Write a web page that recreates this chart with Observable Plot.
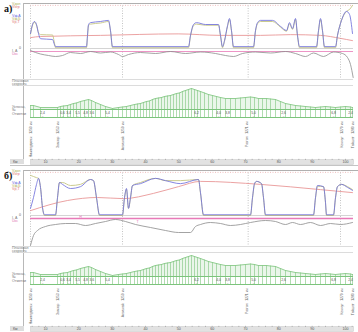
<!DOCTYPE html>
<html><head><meta charset="utf-8">
<script src="https://cdn.jsdelivr.net/npm/d3@7"></script>
<script src="https://cdn.jsdelivr.net/npm/@observablehq/plot@0.6"></script>
<style>
body{margin:0;background:#fff;font-family:"Liberation Sans",Arial,sans-serif;}
#root{position:relative;width:358px;height:332px;overflow:hidden;background:#fff;}
</style></head><body><div id="root"></div>
<script>
// ---------- data ----------
const xDomain = [5.5, 102.4];
const kmTicks = [10, 20, 30, 40, 50, 60, 70, 80, 90, 100];
const stationKm = [5.5, 13.6, 33.1, 70.3, 98.8, 102.2];
const stationCode = ["1250 км", "1253 км", "1259 км", "1271 км", "1279 км", "1280 км"];
const stationName = ["Нижнеудинск", "Замзор", "Алзамай", "Разгон", "Кемчуг", "Тайшет"];
const gridKm = [5.5, 33.1, 70.8, 98.5];

// panel а
const speedA_km = [5.5,6.1,6.7,7.3,7.9,8.5,12.1,12.7,13.0,22.3,22.6,22.9,23.5,26.5,28.9,29.5,30.1,52.9,53.5,54.4,55.3,58.0,61.9,62.5,63.1,63.7,64.6,65.2,65.8,66.4,72.4,73.0,73.6,74.5,78.1,80.5,82.3,83.2,84.1,85.0,85.6,86.2,91.3,91.9,92.5,93.1,93.7,97.0,97.6,98.8,100.3,101.2,102.1];
const speedA_blue = [40,64,72,64,40,26,24,10,5,5,35,64,69,72,75,48,5,5,35,64,69,64,64,35,5,21,61,80,48,5,5,48,69,75,75,59,48,69,53,80,35,5,5,48,80,48,5,5,35,75,99,91,40];
const speedA_olive = [38,62,70,62,42,37,36,14,2,2,33,61,65,68,72,46,2,2,33,61,65,62,62,33,2,19,59,77,46,2,2,46,66,72,72,57,46,66,51,77,33,2,2,46,77,46,2,2,35,75,99,104,115];
const limitA_km = [5.5,8.5,26.5,49.8,62.5,74.5,83.5,92.5,98.5,102.1];
const limitA_v = [29,32,35,39,35,35,37,35,27,21];
const currA_km = [5.5,7.0,8.5,10.9,13.0,15.1,17.5,20.5,23.5,26.5,29.5,31.9,33.1,34.9,38.5,43.0,47.5,52.0,56.5,61.0,64.0,66.4,69.1,73.0,77.5,82.0,85.0,88.0,90.4,93.4,96.4,99.1,100.6,101.5,102.3];
const currA_I = [560,520,490,460,440,460,520,500,540,510,530,480,440,480,520,500,540,500,530,500,460,440,500,530,510,540,500,440,510,440,530,500,420,280,20];

// panel б
const speedB_km = [5.5,6.4,7.3,7.9,8.5,9.1,9.7,13.0,13.6,14.2,15.1,17.5,20.5,23.5,24.4,25.3,26.2,33.1,33.7,34.3,34.9,35.5,36.1,38.5,43.0,46.0,50.5,55.9,56.5,57.4,71.5,72.1,72.7,73.3,74.8,75.4,76.0,90.4,91.0,91.6,93.4,94.0,94.3,96.4,97.0,97.6,98.8,100.6,102.1];
const speedB_blue = [19,48,83,99,75,21,2,2,48,88,83,72,77,96,93,48,2,2,48,72,19,48,80,85,99,93,85,96,61,2,2,48,85,91,85,48,2,2,48,80,77,35,2,2,48,77,83,75,67];
const speedB_olive = [107,104,101,99,75,21,0,0,46,88,88,80,83,96,93,46,0,0,46,70,19,46,80,88,99,93,93,96,59,0,0,46,83,91,85,46,0,0,46,78,77,33,0,0,46,77,83,77,69];
const limitB_km = [5.5,16.6,25.6,33.4,42.4,49.9,56.5,74.5,92.5,102.1];
const limitB_v = [13,40,48,45,59,77,91,83,69,61];
const currB_km = [5.5,6.4,7.6,10.0,13.0,16.0,19.0,22.0,25.0,28.0,31.0,34.0,37.0,41.5,46.0,49.9,53.5,55.0,56.5,59.5,62.5,65.5,68.5,71.5,76.0,79.0,82.0,84.1,86.5,89.5,92.5,95.5,98.5,102.1];
const currB_I = [0,200,300,380,420,440,440,400,440,480,520,480,420,360,300,260,260,380,420,460,440,400,420,460,500,480,420,460,420,460,400,440,420,460];
const pinkB_km = [20.5, 37.6];
const pinkB_I = [565, 480];
const pinkB_text = ["Н", "Т"];

// track profile (shared)
const profileKm = [5.5,6.4,8.5,13.6,14.5,15.4,16.6,17.5,18.4,19.3,20.5,21.7,22.9,23.8,25.0,26.5,28.0,30.1,31.9,33.1,34.3,35.5,36.7,37.6,38.5,39.4,40.3,41.2,42.1,43.0,43.9,44.8,45.7,46.6,47.5,48.4,49.3,50.2,51.1,52.0,52.9,53.8,54.7,55.6,56.5,57.7,58.9,60.1,61.3,62.5,64.0,65.5,67.0,68.5,70.0,71.5,72.7,73.9,75.1,76.3,77.5,79.0,80.5,82.0,83.5,85.0,86.5,88.0,89.5,91.0,92.5,94.0,95.5,97.0,98.5,100.0,101.5,102.1];
const profileElev = [8,8,4,4,6,7,8,10,12,13,16,18,20,18,14,10,6,2,4,5,6,8,10,11,12,14,16,17,20,22,23,24,26,27,28,30,32,33,36,38,40,42,40,38,36,33,30,28,26,24,22,22,22,23,24,25,24,22,22,22,21,20,16,12,10,8,7,6,5,4,5,6,5,4,5,6,5,4];
const gradeKm = [9.1,15.1,16.9,19.6,22.0,23.9,28.6,55.3,61.9,64.6,72.4,81.4,96.4,101.5];
const gradeText = ["2,4","0,6","3,4","5,5","4,8","3,6","5,4","6,2","4,0","3,8","5,0","2,6","6,8","2,4"];

const leftText = ["Vдоп","Vогр","Vф,А","Vф,Б","Vр,Т","I, А","Uкс","Плановая","скорость","Уклоны,","‰","Отметки"];
const leftY = [1.5,5,13.5,16.5,19.5,48.5,51.5,79.3,82.3,105,108,112];
const leftColor = ["#b0b060","#e07070","#6666dd","#b0b060","#e07070","#777","#e070b0","#777","#777","#777","#777","#777"];

// ---------- drawing ----------
const C = {blue:"#7070dc", olive:"#c2c27c", red:"#e68a8a", gray:"#8c8c8c", pink:"#e87ab8", green:"#7cc47c", fill:"#eaf6ea", grid:"#c4c4c4"};
const zip = (xs, ys, k) => xs.map((x, i) => ({km: x, [k]: ys[i]}));
const profile = zip(profileKm, profileElev, "elev");
const grades = gradeKm.map((x, i) => ({km: x, t: gradeText[i]}));
const stations = stationKm.map((x, i) => ({km: x, code: stationCode[i], name: stationName[i]}));
const root = document.getElementById("root");

function div(parent, css, text) {
  const d = document.createElement("div");
  d.style.cssText = css;
  if (text != null) d.textContent = text;
  parent.appendChild(d);
  return d;
}

function band(parent, top, height, yDomain, marks) {
  const svg = Plot.plot({
    width: 358, height, marginLeft: 30, marginRight: 5, marginTop: 0, marginBottom: 0,
    x: {domain: xDomain, axis: null},
    y: {domain: yDomain, axis: null},
    style: {background: "transparent", overflow: "visible", fontFamily: "Liberation Sans"},
    marks
  });
  svg.style.position = "absolute";
  svg.style.left = "0px";
  svg.style.top = top + "px";
  svg.style.maxWidth = "none";
  parent.appendChild(svg);
}

function panel(top, P) {
  const p = div(root, `position:absolute;left:0;top:${top}px;width:358px;height:166px;`);
  div(p, "position:absolute;left:23px;top:3px;width:335px;height:0;border-top:1px solid #b0b0b0;");
  div(p, "position:absolute;left:23px;top:3px;width:0;height:160px;border-left:1px solid #b8b8b8;");
  div(p, "position:absolute;left:12px;top:79px;width:341px;height:0;border-top:1px solid #dcdcdc;");
  div(p, "position:absolute;left:12px;top:85px;width:341px;height:0;border-top:1px solid #dcdcdc;");
  div(p, "position:absolute;left:10px;top:165px;width:348px;height:0;border-top:1px solid #c4c4c4;");
  div(p, "position:absolute;left:4px;top:3px;font:bold 10px 'Liberation Serif',serif;color:#111;", P.label);
  leftText.forEach((t, i) => div(p, `position:absolute;left:12px;top:${leftY[i]}px;font-size:3.6px;line-height:4px;color:${leftColor[i]};white-space:nowrap;`, t));
  div(p, "position:absolute;left:19px;top:45.5px;font-size:3.6px;line-height:4px;color:#666;", "0");

  band(p, 3, 45, [0, 120], [
    Plot.ruleY([0], {stroke: "#d4d4d4"}),
    Plot.ruleY([115], {stroke: C.red, strokeOpacity: 0.55, strokeDasharray: "1,1.5"}),
    Plot.ruleX(gridKm, {stroke: C.grid, strokeDasharray: "1,1.5"}),
    Plot.line(P.limit, {x: "km", y: "v", stroke: C.red, strokeWidth: 0.8, curve: "monotone-x"}),
    Plot.line(P.olive, {x: "km", y: "v", stroke: C.olive, strokeWidth: 0.85, curve: "monotone-x"}),
    Plot.line(P.blue, {x: "km", y: "v", stroke: C.blue, strokeWidth: 0.85, curve: "monotone-x"})
  ]);
  band(p, 49, 29, [0, 580], [
    Plot.ruleX(gridKm, {stroke: C.grid, strokeDasharray: "1,1.5"}),
    Plot.ruleY([540], {stroke: C.pink, strokeWidth: P.pinkW}),
    Plot.text(P.pinks, {x: "km", y: "I", text: "t", fill: C.pink, fontSize: 3.6}),
    Plot.line(P.curr, {x: "km", y: "I", stroke: C.gray, strokeWidth: 0.8, curve: "monotone-x"})
  ]);
  band(p, 86, 23, [0, 46], [
    Plot.areaY(profile, {x: "km", y: "elev", fill: C.fill}),
    Plot.ruleX(profile, {x: "km", y1: 0, y2: "elev", stroke: C.green, strokeWidth: 0.6}),
    Plot.line(profile, {x: "km", y: "elev", stroke: C.green, strokeWidth: 0.8}),
    Plot.ruleY([0], {stroke: C.green})
  ]);
  band(p, 109, 8, [0, 1], [
    Plot.ruleX(profile, {x: "km", stroke: C.green, strokeWidth: 0.6}),
    Plot.ruleY([0, 1], {stroke: C.green}),
    Plot.text(grades, {x: "km", y: 0.62, text: "t", fill: "#555", fontSize: 3.4}),
    Plot.text(grades, {x: "km", y: 0.22, text: () => "–", fill: "#777", fontSize: 3})
  ]);
  band(p, 118, 42, [0, 42], [
    Plot.text(stations, {x: "km", y: 39, text: "code", rotate: -90, textAnchor: "end", fill: "#666", fontSize: 3.4}),
    Plot.text(stations, {x: "km", y: 24, text: "name", rotate: -90, textAnchor: "end", fill: "#666", fontSize: 3.4})
  ]);
  div(p, "position:absolute;left:10px;top:159px;width:14px;height:5px;background:#dedede;");
  div(p, "position:absolute;left:13px;top:159.5px;font-size:3.6px;line-height:4px;color:#555;", "Км");
  band(p, 159, 5, [0, 1], [
    Plot.frame({fill: "#e2e2e2", stroke: "#c8c8c8", strokeWidth: 0.5}),
    Plot.axisX({anchor: "top", ticks: 48, tickSize: 1.2, text: null, stroke: "#888", strokeWidth: 0.5}),
    Plot.text(kmTicks, {x: d => d, y: 0.5, text: d => String(d), fill: "#555", fontSize: 3.6})
  ]);
}

panel(0, {
  label: "а)",
  blue: zip(speedA_km, speedA_blue, "v"),
  olive: zip(speedA_km, speedA_olive, "v"),
  limit: zip(limitA_km, limitA_v, "v"),
  curr: zip(currA_km, currA_I, "I"),
  pinks: [], pinkW: 0.8
});
panel(167, {
  label: "б)",
  blue: zip(speedB_km, speedB_blue, "v"),
  olive: zip(speedB_km, speedB_olive, "v"),
  limit: zip(limitB_km, limitB_v, "v"),
  curr: zip(currB_km, currB_I, "I"),
  pinks: pinkB_km.map((x, i) => ({km: x, I: pinkB_I[i], t: pinkB_text[i]})), pinkW: 1.4
});
</script></body></html>
